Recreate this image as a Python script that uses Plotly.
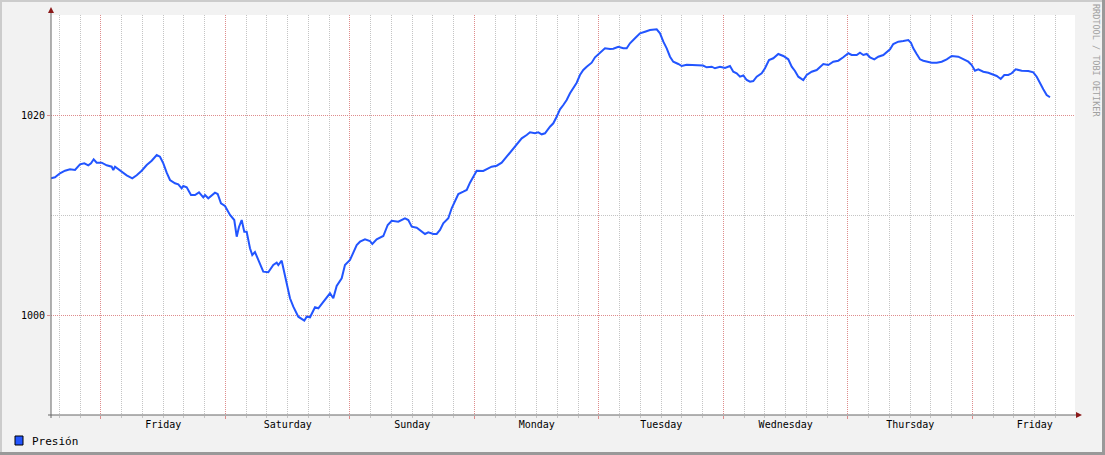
import pandas as pd
import plotly.graph_objects as go

# ---- data (hours since chart start, pressure in hPa) ----
start_time = "2024-01-04 14:22"
range_hours = 197.4
hours = [0.00, 0.77, 1.73, 2.70, 3.66, 4.63, 5.59, 6.42, 7.19, 7.71, 8.23, 8.81, 9.77, 10.74, 11.70,
         12.01, 12.34, 13.63, 14.59, 15.67, 16.52, 17.48, 18.45, 19.41, 20.38, 21.01, 21.65, 22.30,
         22.94, 23.90, 24.54, 25.19, 25.50, 26.16, 26.99, 27.76, 28.53, 29.36, 29.69, 30.32, 30.98,
         31.61, 32.13, 32.77, 33.54, 34.51, 35.33, 35.80, 36.24, 36.76, 37.26, 37.72, 38.36, 38.80,
         39.32, 39.96, 40.92, 41.89, 42.85, 43.51, 43.82, 44.47, 45.11, 45.63, 46.07, 46.71, 47.67,
         48.83, 49.29, 49.93, 50.89, 51.53, 52.49, 53.15, 53.78, 54.42, 55.07, 56.04, 56.67, 57.64,
         58.28, 58.93, 59.57, 60.53, 61.49, 61.94, 62.78, 64.06, 64.91, 65.68, 66.95, 68.24, 68.88,
         69.54, 70.50, 71.13, 72.10, 72.73, 73.70, 74.35, 74.99, 75.62, 76.59, 77.24, 77.88, 78.52,
         79.48, 80.14, 80.77, 81.41, 82.06, 83.33, 83.99, 84.95, 85.92, 86.88, 87.84, 88.81, 89.77,
         90.74, 91.70, 92.34, 93.30, 93.94, 94.59, 95.23, 96.19, 96.83, 97.48, 98.12, 98.76, 99.41,
         100.05, 100.69, 101.34, 101.97, 102.61, 103.27, 104.23, 104.87, 105.83, 106.79, 107.76,
         108.40, 109.36, 110.32, 110.98, 111.61, 112.58, 113.54, 114.51, 115.47, 116.76, 117.40,
         118.04, 118.69, 119.33, 119.96, 120.93, 121.58, 122.54, 123.82, 124.78, 125.69, 126.40,
         127.37, 128.00, 128.97, 129.93, 130.89, 131.53, 132.18, 132.82, 133.46, 134.11, 134.75,
         135.38, 136.04, 137.00, 137.64, 138.41, 139.24, 140.20, 141.17, 142.13, 142.79, 143.42,
         144.06, 145.02, 145.68, 146.64, 147.61, 148.88, 149.84, 150.80, 151.77, 152.73, 153.70,
         154.35, 155.32, 155.95, 156.59, 157.25, 157.88, 158.71, 159.48, 160.45, 161.10, 161.74,
         162.37, 163.34, 164.30, 165.27, 165.78, 166.23, 166.88, 167.52, 168.16, 169.00, 169.77,
         170.74, 171.70, 172.67, 173.63, 174.90, 175.87, 176.83, 177.49, 178.12, 178.76, 179.72,
         180.69, 181.65, 182.31, 183.08, 183.77, 184.54, 185.20, 185.97, 187.12, 188.40, 189.36,
         190.02, 190.65, 191.29, 191.94, 192.58]
pressure = [1013.67, 1013.77, 1014.17, 1014.43, 1014.57, 1014.50, 1015.07, 1015.17, 1014.97, 1015.17,
            1015.57, 1015.23, 1015.23, 1014.97, 1014.83, 1014.50, 1014.83, 1014.30, 1013.97, 1013.67,
            1013.97, 1014.43, 1015.00, 1015.43, 1016.00, 1015.83, 1015.17, 1014.23, 1013.50, 1013.17,
            1013.07, 1012.67, 1012.90, 1012.77, 1012.00, 1012.00, 1012.27, 1011.77, 1012.00, 1011.67,
            1012.00, 1012.23, 1012.10, 1011.17, 1010.90, 1010.00, 1009.50, 1007.83, 1008.80, 1009.50,
            1008.33, 1008.33, 1006.67, 1006.00, 1006.30, 1005.50, 1004.33, 1004.27, 1005.00, 1005.23,
            1005.00, 1005.43, 1003.83, 1002.67, 1001.67, 1000.83, 999.83, 999.43, 999.83, 999.77,
            1000.77, 1000.67, 1001.33, 1001.77, 1002.17, 1001.67, 1002.90, 1003.67, 1005.00, 1005.50,
            1006.17, 1007.00, 1007.33, 1007.57, 1007.40, 1007.10, 1007.57, 1007.90, 1009.00, 1009.43,
            1009.33, 1009.67, 1009.50, 1008.83, 1008.73, 1008.50, 1008.10, 1008.27, 1008.10, 1008.10,
            1008.50, 1009.17, 1009.67, 1010.67, 1011.33, 1012.10, 1012.33, 1012.50, 1013.23, 1013.83,
            1014.43, 1014.40, 1014.60, 1014.83, 1014.93, 1015.23, 1015.83, 1016.43, 1017.00, 1017.67,
            1018.00, 1018.27, 1018.17, 1018.27, 1018.07, 1018.17, 1018.83, 1019.17, 1019.83, 1020.57,
            1021.00, 1021.50, 1022.17, 1022.67, 1023.23, 1024.00, 1024.50, 1024.83, 1025.23, 1025.77,
            1026.23, 1026.67, 1026.60, 1026.63, 1026.83, 1026.67, 1026.67, 1027.17, 1027.67, 1028.17,
            1028.33, 1028.50, 1028.57, 1028.17, 1027.33, 1026.67, 1025.83, 1025.33, 1025.10, 1024.90,
            1025.03, 1025.00, 1025.03, 1024.95, 1024.77, 1024.83, 1024.67, 1024.83, 1024.70, 1024.90,
            1024.33, 1024.17, 1023.83, 1023.95, 1023.50, 1023.33, 1023.40, 1023.83, 1024.17, 1024.67,
            1025.50, 1025.67, 1026.10, 1025.90, 1025.57, 1024.83, 1024.40, 1023.83, 1023.50, 1024.00,
            1024.33, 1024.50, 1025.10, 1025.00, 1025.33, 1025.43, 1025.77, 1026.17, 1026.00, 1026.00,
            1026.23, 1026.00, 1026.10, 1025.77, 1025.57, 1025.83, 1026.00, 1026.33, 1026.57, 1027.10,
            1027.33, 1027.40, 1027.50, 1027.23, 1026.67, 1026.10, 1025.57, 1025.43, 1025.33, 1025.23,
            1025.23, 1025.33, 1025.57, 1025.90, 1025.83, 1025.57, 1025.33, 1025.00, 1024.43, 1024.57,
            1024.33, 1024.23, 1024.00, 1023.90, 1023.60, 1024.00, 1024.00, 1024.17, 1024.57, 1024.43,
            1024.40, 1024.27, 1023.83, 1023.17, 1022.57, 1022.00, 1021.77]
day_labels = ["Friday", "Saturday", "Sunday", "Monday", "Tuesday", "Wednesday", "Thursday", "Friday"]
first_label_noon = "2024-01-05 12:00"
y_range = [990, 1030]
y_ticks = [1000, 1020]
series_name = "Presión"

# ---- derived ----
t0 = pd.Timestamp(start_time)
times = t0 + pd.to_timedelta(hours, unit="h")
x_range = [t0, t0 + pd.to_timedelta(range_hours, unit="h")]
label_pos = [pd.Timestamp(first_label_noon) + pd.Timedelta(days=i) for i in range(len(day_labels))]

MONO = "DejaVu Sans Mono"
LINE = "#2255ff"
RED_GRID = "#de8c8c"
GRAY_GRID = "#c4c4c4"
DOT = "1px,1px"

W, H = 1105, 455
L, R, T, B = 51, 30, 15, 40
PW, PH = W - L - R, H - T - B


def px(xp):
    return (xp - L) / PW


def py(yp):
    return (H - B - yp) / PH


fig = go.Figure()
# main series on the grid axis
fig.add_trace(go.Scatter(x=times, y=pressure, mode="lines", name=series_name,
                         line=dict(color=LINE, width=2), xaxis="x", yaxis="y",
                         showlegend=False, hoverinfo="skip"))
# transparent copy so the day-label axis is drawn
fig.add_trace(go.Scatter(x=times, y=pressure, mode="lines", name=series_name,
                         line=dict(color="rgba(0,0,0,0)", width=0), xaxis="x2", yaxis="y",
                         showlegend=False, hoverinfo="skip"))

shapes = [
    # outer frame
    dict(type="line", xref="paper", yref="paper", x0=px(0), x1=px(W), y0=py(1), y1=py(1),
         line=dict(color="#cccccc", width=2)),
    dict(type="line", xref="paper", yref="paper", x0=px(1), x1=px(1), y0=py(0), y1=py(H),
         line=dict(color="#cccccc", width=2)),
    dict(type="line", xref="paper", yref="paper", x0=px(0), x1=px(W), y0=py(H - 1.5), y1=py(H - 1.5),
         line=dict(color="#999999", width=3)),
    dict(type="line", xref="paper", yref="paper", x0=px(W - 1.5), x1=px(W - 1.5), y0=py(0), y1=py(H),
         line=dict(color="#999999", width=3)),
    # axis lines
    dict(type="line", xref="paper", yref="paper", x0=px(51), x1=px(51), y0=py(418), y1=py(12),
         line=dict(color="#666666", width=1)),
    dict(type="line", xref="paper", yref="paper", x0=px(48), x1=px(1077), y0=py(415), y1=py(415),
         line=dict(color="#666666", width=1)),
    # arrows
    dict(type="path", xref="paper", yref="paper",
         path=f"M {px(48)},{py(13)} L {px(54)},{py(13)} L {px(51)},{py(7)} Z",
         fillcolor="#8b1a1a", line=dict(width=0)),
    dict(type="path", xref="paper", yref="paper",
         path=f"M {px(1076)},{py(412)} L {px(1076)},{py(418)} L {px(1082)},{py(415)} Z",
         fillcolor="#8b1a1a", line=dict(width=0)),
    # legend box
    dict(type="rect", xref="paper", yref="paper", x0=px(15), x1=px(23), y0=py(445), y1=py(436),
         fillcolor=LINE, line=dict(color="#000000", width=1)),
]

annotations = [
    dict(text=series_name, xref="paper", yref="paper", x=px(30), y=py(441), xanchor="left",
         yanchor="middle", showarrow=False, font=dict(family=MONO, size=11, color="#000000")),
    dict(text="RRDTOOL / TOBI OETIKER", xref="paper", yref="paper", x=px(1096), y=py(60),
         xanchor="center", yanchor="middle", textangle=90, showarrow=False,
         font=dict(family=MONO, size=8.5, color="#a0a0a0")),
]

fig.update_layout(
    width=W, height=H,
    margin=dict(l=L, r=R, t=T, b=B),
    paper_bgcolor="#f2f2f2", plot_bgcolor="#ffffff",
    showlegend=False,
    xaxis=dict(type="date", range=x_range, tick0="2024-01-05", dtick=86400000,
               showgrid=True, gridcolor=RED_GRID, griddash=DOT, gridwidth=1,
               showticklabels=False, ticks="outside", ticklen=3, tickcolor=RED_GRID,
               showline=False, zeroline=False,
               minor=dict(dtick=4 * 3600 * 1000, tick0="2024-01-05", showgrid=True,
                          gridcolor=GRAY_GRID, griddash=DOT, gridwidth=1,
                          ticks="outside", ticklen=2, tickcolor=GRAY_GRID)),
    xaxis2=dict(type="date", range=x_range, overlaying="x", anchor="y", side="bottom",
                tickmode="array", tickvals=label_pos, ticktext=day_labels,
                showgrid=False, ticks="", showline=False, zeroline=False, ticklabelstandoff=2,
                tickfont=dict(family=MONO, size=10, color="#000000")),
    yaxis=dict(range=y_range, tickmode="array", tickvals=y_ticks, ticktext=[str(v) for v in y_ticks],
               showgrid=True, gridcolor=RED_GRID, griddash=DOT, gridwidth=1,
               ticks="outside", ticklen=3, tickcolor=RED_GRID, showline=False, zeroline=False,
               tickfont=dict(family=MONO, size=10, color="#000000"),
               minor=dict(tickmode="array", tickvals=[990, 1010, 1030], showgrid=True,
                          gridcolor=GRAY_GRID, griddash=DOT, gridwidth=1)),
    shapes=shapes,
    annotations=annotations,
)

fig.write_html("out.html", config={"displayModeBar": False},
               post_script="document.body.style.margin='0';")
